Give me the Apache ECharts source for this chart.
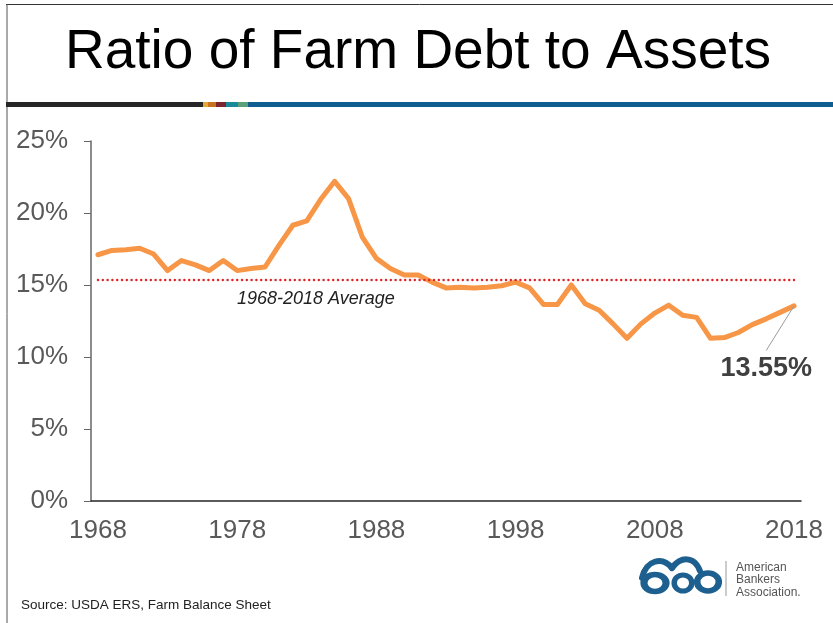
<!DOCTYPE html>
<html>
<head>
<meta charset="utf-8">
<script src="https://cdn.jsdelivr.net/npm/echarts@6/dist/echarts.min.js"></script>
<style>
html,body{margin:0;padding:0;background:#fff;}
#chart{width:833px;height:623px;}
</style>
</head>
<body>
<div id="chart"></div>
<script>
const titleText = 'Ratio of Farm Debt to Assets';
const sourceText = 'Source: USDA ERS, Farm Balance Sheet';
const averageLabel = '1968-2018 Average';
const years = ['1968','1969','1970','1971','1972','1973','1974','1975','1976','1977',
  '1978','1979','1980','1981','1982','1983','1984','1985','1986','1987',
  '1988','1989','1990','1991','1992','1993','1994','1995','1996','1997',
  '1998','1999','2000','2001','2002','2003','2004','2005','2006','2007',
  '2008','2009','2010','2011','2012','2013','2014','2015','2016','2017','2018'];
const debtRatio = [17.1,17.4,17.45,17.55,17.15,16.0,16.7,16.4,16.0,16.7,
  16.0,16.15,16.25,17.75,19.15,19.45,20.95,22.2,21.0,18.3,
  16.85,16.15,15.7,15.7,15.2,14.8,14.85,14.8,14.85,14.95,
  15.2,14.8,13.65,13.65,15.0,13.7,13.25,12.3,11.3,12.3,
  13.05,13.6,12.9,12.75,11.3,11.35,11.7,12.25,12.65,13.1,13.55];
const averageValue = 15.35;
const yTicks = [0,5,10,15,20,25];
const logoLines = ['American','Bankers','Association.'];
const stripeColors = ['#262626','#E4A83A','#C8741E','#7A2530','#1A8A9A','#5AA07A','#0E5E91'];

const FONT = "'Liberation Sans', Arial, sans-serif";
const chart = echarts.init(document.getElementById('chart'), null, {renderer:'canvas'});

const lastIdx = debtRatio.length - 1;
const lastVal = debtRatio[lastIdx];

const stripeX = [6,203,208,216,226,238,248,833];
const stripe = stripeColors.map((c,i)=>({
  type:'rect', shape:{x:stripeX[i], y:102, width:stripeX[i+1]-stripeX[i], height:5},
  style:{fill:c}, silent:true
}));

const LOGO = '#1D5F8E';
const graphics = [
  {type:'line', shape:{x1:6,y1:4.5,x2:833,y2:4.5}, style:{stroke:'#333',lineWidth:1}},
  {type:'line', shape:{x1:7,y1:4,x2:7,y2:623}, style:{stroke:'#555',lineWidth:1}},
  ...stripe,
  {type:'text', x:418, y:53, style:{text:titleText, font:'55px '+FONT, fill:'#000', textAlign:'center', textVerticalAlign:'middle'}},
  {type:'text', x:21, y:605, style:{text:sourceText, font:'13.5px '+FONT, fill:'#222', textAlign:'left', textVerticalAlign:'middle'}},
  {type:'bezierCurve', shape:{x1:642,y1:578,cpx1:646,cpy1:560,cpx2:662,cpy2:556,x2:672,y2:568},
    style:{stroke:LOGO, lineWidth:6, fill:null, lineCap:'round'}},
  {type:'bezierCurve', shape:{x1:672,y1:568,cpx1:680,cpy1:557,cpx2:694,cpy2:555,x2:700,y2:571},
    style:{stroke:LOGO, lineWidth:6, fill:null, lineCap:'round'}},
  {type:'circle', shape:{cx:655,cy:583,r:8.5}, scaleX:1.3, originX:655, originY:583, style:{stroke:LOGO, lineWidth:5.5, fill:null}},
  {type:'circle', shape:{cx:683,cy:583,r:8}, scaleX:1.1, originX:683, originY:583, style:{stroke:LOGO, lineWidth:5, fill:null}},
  {type:'circle', shape:{cx:708,cy:582,r:9}, scaleX:1.2, originX:708, originY:582, style:{stroke:LOGO, lineWidth:5.5, fill:null}},
  {type:'line', shape:{x1:726,y1:561,x2:726,y2:596}, style:{stroke:'#999',lineWidth:1}},
  {type:'text', x:736, y:561, style:{text:logoLines.join('\n'), font:'12px '+FONT, fill:'#555', lineHeight:12.5, textAlign:'left', textVerticalAlign:'top'}}
];

const option = {
  animation:false,
  backgroundColor:'#fff',
  grid:{left:91, right:32, top:141, bottom:122, containLabel:false},
  xAxis:{
    type:'category', data:years, boundaryGap:true,
    axisLine:{lineStyle:{color:'#262626', width:1.5}},
    axisTick:{interval:0, length:6, lineStyle:{color:'#333'}},
    axisLabel:{interval:9, margin:17, color:'#595959', fontSize:26, fontFamily:FONT}
  },
  yAxis:{
    type:'value', min:yTicks[0], max:yTicks[yTicks.length-1], interval:5,
    axisLine:{show:true, lineStyle:{color:'#666', width:1.5}},
    axisTick:{show:true, length:7, lineStyle:{color:'#666'}},
    splitLine:{show:false},
    axisLabel:{margin:23, color:'#595959', fontSize:26, fontFamily:FONT, formatter:v=>v+'%'}
  },
  series:[{
    type:'line', data:debtRatio, showSymbol:false, symbol:'none',
    lineStyle:{color:'#F79646', width:5, cap:'round', join:'round'},
    z:3,
    markLine:{
      silent:true, symbol:['none','none'], animation:false,
      data:[
        [{coord:[years[0], averageValue], lineStyle:{color:'#E0262B', width:2.4, type:[0.1,4.7], cap:'round'}, label:{show:false}},
         {coord:[years[lastIdx], averageValue]}],
        [{coord:[years[lastIdx], lastVal], lineStyle:{color:'#9a9a9a', width:1, type:'solid'}, label:{show:false}},
         {coord:[years[lastIdx-2], 10.45]}]
      ]
    },
    markPoint:{
      silent:true, animation:false,
      symbol:'circle', symbolSize:1, itemStyle:{color:'rgba(0,0,0,0)'},
      data:[{coord:[years[lastIdx-2], 9.2], value:lastVal,
        label:{show:true, position:'inside', formatter:lastVal.toFixed(2)+'%', color:'#404040', fontSize:27, fontWeight:'bold', fontFamily:FONT}}]
    }
  }],
  graphic:{elements:graphics}
};
chart.setOption(option);

const p = chart.convertToPixel({xAxisIndex:0, yAxisIndex:0}, [years[0], averageValue]);
chart.setOption({graphic:{elements:[{id:'avgLabel', type:'text', x:p[0]+139, y:p[1]+19,
  style:{text:averageLabel, font:'italic 18px '+FONT, fill:'#222', textAlign:'left', textVerticalAlign:'middle'}}]}});
</script>
</body>
</html>
